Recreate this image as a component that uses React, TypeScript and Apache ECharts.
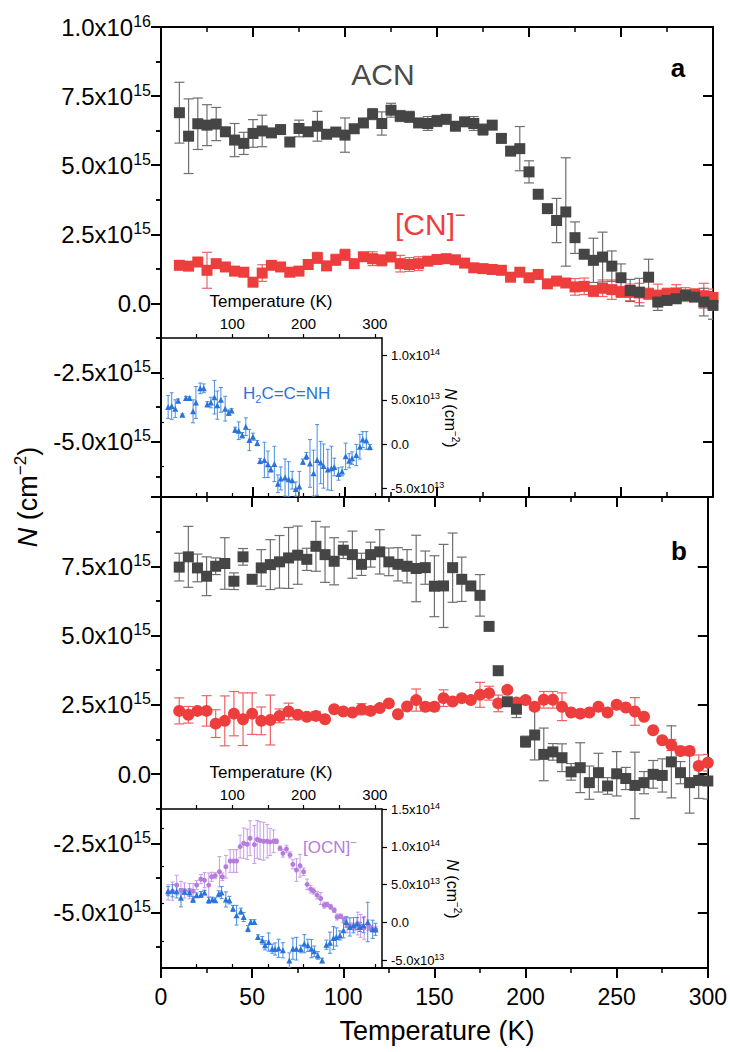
import React, { useEffect, useRef } from 'react';
import * as echarts from 'echarts';

const FONT = 'Arial, "Liberation Sans", Helvetica, sans-serif';

// ---------- main panels (temperature in K, N in units of 1e15 cm^-2) ----------
const T_MAIN = [10, 15, 20, 25, 30, 35, 40, 45, 50, 55, 60, 65, 70, 75, 80, 85, 90, 95, 100, 105, 110, 115, 120, 125, 130, 135, 140, 145, 150, 155, 160, 165, 170, 175, 180, 185, 190, 195, 200, 205, 210, 215, 220, 225, 230, 235, 240, 245, 250, 255, 260, 265, 270, 275, 280, 285, 290, 295, 300];

// panel a: ACN
const ACN_A = [6.9, 6.05, 6.5, 6.45, 6.49, 6.21, 5.91, 5.79, 6.15, 6.24, 6.17, 6.29, 5.84, 6.33, 6.21, 6.41, 6.12, 6.2, 6.09, 6.32, 6.53, 6.85, 6.51, 6.99, 6.78, 6.75, 6.53, 6.51, 6.6, 6.66, 6.41, 6.57, 6.51, 6.29, 6.45, 5.97, 5.51, 5.6, 4.76, 3.95, 3.43, 3.0, 3.31, 2.38, 1.78, 1.56, 1.68, 1.35, 0.93, 0.47, 0.41, 0.95, 0.05, 0.11, 0.17, 0.29, 0.23, 0.05, -0.07];
const ACN_A_ERR = [1.1, 1.35, 0.93, 0.74, 0.6, 0.15, 0.6, 0.4, 0.5, 0.57, 0.15, 0.1, 0.1, 0.3, 0.15, 0.54, 0.1, 0.15, 0.62, 0.15, 0.15, 0.2, 0.42, 0.25, 0.2, 0.2, 0.15, 0.25, 0.2, 0.1, 0.1, 0.15, 0.25, 0.2, 0.1, 0.1, 0.1, 0.8, 0.4, 0.1, 0.1, 0.8, 1.96, 0.57, 0.1, 0.8, 0.9, 0.55, 0.5, 0.4, 0.5, 0.65, 0.3, 0.1, 0.1, 0.1, 0.1, 0.5, 0.5];
// panel a: [CN]-
const CN_A = [1.38, 1.35, 1.5, 1.2, 1.44, 1.32, 1.17, 1.13, 0.77, 1.1, 1.38, 1.32, 1.13, 1.17, 1.41, 1.65, 1.36, 1.58, 1.76, 1.44, 1.69, 1.62, 1.56, 1.68, 1.44, 1.41, 1.44, 1.53, 1.59, 1.62, 1.58, 1.46, 1.29, 1.26, 1.23, 1.2, 0.95, 1.13, 0.93, 1.05, 0.71, 0.81, 0.74, 0.6, 0.62, 0.45, 0.55, 0.5, 0.42, 0.4, 0.38, 0.35, 0.3, 0.35, 0.38, 0.32, 0.33, 0.28, 0.22];
const CN_A_ERR = [0.15, 0.1, 0.15, 0.65, 0.1, 0.1, 0.1, 0.1, 0.1, 0.3, 0.1, 0.1, 0.1, 0.15, 0.15, 0.2, 0.1, 0.2, 0.2, 0.1, 0.1, 0.25, 0.2, 0.1, 0.3, 0.25, 0.25, 0.1, 0.1, 0.1, 0.1, 0.1, 0.1, 0.1, 0.1, 0.1, 0.1, 0.1, 0.1, 0.1, 0.1, 0.15, 0.15, 0.3, 0.3, 0.2, 0.3, 0.35, 0.2, 0.3, 0.35, 0.2, 0.4, 0.2, 0.3, 0.25, 0.2, 0.45, 0.3];

// panel b: ACN
const ACN_B = [7.47, 7.84, 7.44, 7.14, 7.5, 7.6, 6.96, 7.84, 7.03, 7.44, 7.56, 7.66, 7.8, 7.9, 7.75, 8.22, 7.92, 7.68, 8.08, 7.92, 7.57, 7.92, 8.02, 7.66, 7.57, 7.5, 7.42, 7.45, 6.78, 6.79, 7.45, 7.03, 6.79, 6.45, 5.33, 3.73, 2.61, 2.34, 1.17, 1.41, 0.71, 0.8, 0.59, 0.08, 0.23, -0.31, 0.05, -0.43, 0.01, -0.16, -0.41, -0.31, -0.01, -0.05, 0.44, 0.05, -0.31, -0.23, -0.25];
const ACN_B_ERR = [0.5, 1.1, 0.5, 0.7, 0.3, 0.93, 0.3, 0.3, 0, 0.66, 0.9, 0.95, 1.1, 1.05, 0.4, 0.9, 1.0, 0.85, 0.3, 0.85, 0.4, 0.45, 0.8, 0.5, 0.6, 0.6, 1.2, 0.6, 1.1, 1.5, 1.25, 0.8, 0.1, 0.75, 0, 0, 0.1, 0.3, 0.2, 0.9, 0.95, 0.3, 0.5, 0.3, 0.9, 0.6, 0.7, 0.3, 0.8, 0.4, 1.2, 0.4, 0.5, 0.6, 1.3, 0.4, 1.1, 0.65, 0.65];
// panel b: [CN]-
const CN_B = [2.28, 2.14, 2.28, 2.28, 1.82, 1.92, 2.18, 1.98, 2.18, 1.92, 1.95, 2.1, 2.26, 2.14, 2.07, 2.1, 1.98, 2.34, 2.26, 2.22, 2.34, 2.28, 2.38, 2.55, 2.16, 2.44, 2.67, 2.43, 2.43, 2.74, 2.62, 2.74, 2.67, 2.86, 2.92, 2.55, 3.04, 2.58, 2.67, 2.43, 2.68, 2.68, 2.43, 2.22, 2.18, 2.22, 2.43, 2.22, 2.5, 2.4, 2.26, 2.07, 1.58, 1.22, 1.05, 0.83, 0.83, 0.29, 0.41];
const CN_B_ERR = [0.47, 0.3, 0.1, 0.55, 0.5, 0.9, 0.8, 0.95, 0.75, 0.5, 0.9, 0.25, 0.3, 0.1, 0.1, 0.15, 0.1, 0.1, 0.1, 0.1, 0.2, 0.1, 0.1, 0.1, 0.1, 0.1, 0.4, 0.15, 0.15, 0.3, 0.1, 0.1, 0.1, 0.45, 0.25, 0.3, 0.1, 0.15, 0.1, 0.1, 0.3, 0.3, 0.5, 0.1, 0.1, 0.1, 0.1, 0.1, 0.1, 0.1, 0.5, 0.1, 0.1, 0.1, 0.2, 0.15, 0.15, 0.4, 0.3];

// ---------- insets (N in units of 1e13 cm^-2) ----------
const T_KET_A = [10, 15, 20, 24, 30, 35, 40, 45, 49, 55, 60, 65, 70, 75, 79, 84, 90, 95, 99, 104, 109, 114, 119, 124, 129, 135, 139, 145, 150, 154, 159, 164, 168, 174, 179, 184, 189, 194, 199, 204, 209, 214, 219, 224, 228, 234, 239, 243, 249, 254, 259, 264, 268, 274, 279, 283, 288, 293];
const KET_A = [4.2, 4.3, 4.0, 4.9, 3.3, 5.2, 5.2, 3.7, 4.7, 6.3, 6.3, 4.5, 4.7, 5.3, 4.4, 5.0, 4.0, 3.55, 3.8, 1.6, 1.5, 1.0, 1.96, 0.45, 0.83, 0.1, -1.93, -1.8, -2.3, -2.87, -2.26, -4.5, -3.9, -3.8, -4.0, -4.1, -5.1, -4.8, -2.0, -1.36, -2.2, -3.3, -1.8, -2.1, -2.5, -2.9, -2.75, -2.6, -3.4, -3.1, -1.4, -1.9, -1.6, -1.25, -0.3, 0.5, 0.4, -0.35];
const KET_A_ERR = [1.3, 1.5, 1.0, 0.2, 0.1, 0.2, 0.15, 1.3, 1.8, 0.6, 0.5, 0.3, 0.6, 1.9, 1.6, 1.4, 1.4, 0.3, 0.2, 0.3, 1.0, 0.3, 1.0, 1.2, 0.4, 0.3, 0.3, 2.0, 1.5, 0.3, 2.0, 1.0, 1.3, 2.1, 2.0, 1.0, 0.8, 1.7, 0.3, 0.4, 2.7, 2.6, 4.0, 2.4, 2.5, 2.3, 2.5, 1.0, 0.7, 0.5, 1.5, 0.8, 0.7, 1.2, 1.4, 0.9, 1.0, 0.3];

const T_KET_B = [10, 16, 22, 28, 33, 40, 45, 50, 56, 61, 67, 72, 76, 81, 85, 91, 96, 101, 106, 112, 116, 122, 126, 131, 136, 142, 146, 151, 156, 160, 165, 171, 180, 185, 190, 196, 201, 206, 211, 215, 220, 226, 232, 237, 242, 246, 251, 256, 260, 265, 270, 275, 279, 284, 290, 297, 301];
const KET_B = [4.15, 4.2, 4.15, 3.27, 4.06, 3.97, 3.05, 3.62, 3.71, 3.97, 2.96, 3.05, 2.96, 3.8, 3.97, 3.05, 2.96, 1.86, 0.97, 1.5, 0.74, -0.8, 0.08, 0.08, -1.91, -2.35, -3.01, -2.57, -3.45, -3.49, -3.4, -3.66, -5.0, -3.45, -3.45, -3.49, -2.79, -3.0, -3.45, -3.8, -4.34, -5.0, -2.92, -2.66, -2.04, -1.9, -1.7, -1.02, 0.08, -0.58, -0.35, -0.13, -0.58, -0.35, 0.08, -0.89, -0.89];
const KET_B_ERR = [0.6, 0.8, 0.9, 1.2, 0.3, 0.5, 0.4, 0.3, 0.4, 0.3, 0.4, 0.3, 0.3, 0.4, 0.8, 1.0, 0.5, 0.4, 1.3, 0.4, 0.6, 0.4, 0.3, 0.3, 0.3, 0.5, 0.6, 1.2, 0.6, 0.8, 1.2, 1.0, 1.0, 1.4, 1.5, 0.5, 1.2, 0.8, 1.2, 0.7, 0.5, 0.3, 0.6, 1.4, 1.5, 1.2, 0.6, 1.0, 0.7, 1.2, 1.0, 0.8, 0.6, 1.0, 2.6, 1.2, 0.8];

const T_OCN_B = [10, 16, 22, 28, 33, 40, 45, 50, 56, 61, 67, 71, 76, 82, 86, 91, 97, 102, 106, 111, 116, 121, 125, 131, 135, 139, 144, 149, 153, 158, 162, 167, 171, 176, 181, 185, 190, 195, 200, 205, 210, 214, 219, 224, 229, 233, 238, 243, 247, 252, 257, 261, 266, 271, 276, 280, 285, 291, 295, 301];
const OCN_B = [3.98, 4.15, 4.95, 4.24, 4.24, 4.15, 4.15, 4.95, 5.74, 5.6, 4.95, 6.05, 6.19, 6.71, 6.05, 7.37, 8.13, 8.13, 8.13, 10.03, 10.48, 10.34, 11.14, 10.3, 10.97, 10.83, 10.74, 10.74, 10.65, 10.74, 10.74, 9.81, 9.15, 9.72, 8.93, 7.69, 6.94, 7.51, 6.71, 5.04, 4.42, 4.15, 3.62, 3.18, 2.3, 2.38, 2.07, 1.63, 0.74, 0.83, 0.44, -0.35, -0.44, -0.58, -0.13, -0.44, -0.71, -0.35, -0.8, -0.89];
const OCN_B_ERR = [1.0, 1.2, 1.3, 1.2, 1.0, 1.0, 1.0, 0.6, 0.6, 1.0, 1.6, 0.6, 0.4, 2.0, 0.5, 1.5, 1.5, 1.5, 1.5, 1.5, 2.0, 2.0, 2.3, 2.5, 2.5, 2.5, 2.5, 2.2, 1.8, 1.5, 0.3, 0.3, 0.5, 0.5, 0.4, 0.6, 1.5, 1.5, 0.5, 0.7, 0.5, 0.4, 0.5, 0.8, 0.4, 0.3, 0.3, 0.3, 0.4, 0.3, 0.3, 1.0, 0.4, 0.5, 1.5, 1.5, 1.5, 0.7, 0.4, 0.4];

// ---------- ticks ----------
const MAIN_Y_TICKS = [-5, -2.5, 0, 2.5, 5, 7.5, 10];
const MAIN_Y_LABELS_A = [-5, -2.5, 0, 2.5, 5, 7.5, 10];
const MAIN_Y_LABELS_B = [-5, -2.5, 0, 2.5, 5, 7.5];
const MAIN_Y_MINOR = [-6.25, -3.75, -1.25, 1.25, 3.75, 6.25, 8.75];
const INSET_X_TICKS = [50, 100, 150, 200, 250, 300];
const INSET_X_LABELS = [100, 200, 300];
const INSET_A_TICKS = [-5, 0, 5, 10];
const INSET_A_MINOR = [-2.5, 2.5, 7.5];
const INSET_B_TICKS = [-5, 0, 5, 10, 15];
const INSET_B_MINOR = [-2.5, 2.5, 7.5, 12.5];

function sci(v: number, unitExp: number): string {
  if (Math.abs(v) < 1e-9) return '{b|0.0}';
  const real = v * Math.pow(10, unitExp);
  const e = Math.floor(Math.log10(Math.abs(real)) + 1e-9);
  const m = real / Math.pow(10, e);
  return `{b|${m.toFixed(1)}x10}{s|${e}}`;
}

function pts(t: number[], v: number[]) {
  return t.map((x, i) => [x, v[i]]);
}
function errs(t: number[], v: number[], e: number[]) {
  const out: number[][] = [];
  t.forEach((x, i) => {
    if (e[i] > 0) out.push([x, v[i] - e[i], v[i] + e[i]]);
  });
  return out;
}

function errSeries(xi: number, yi: number, data: number[][], color: string, cap: number, lw: number) {
  return {
    type: 'custom',
    xAxisIndex: xi,
    yAxisIndex: yi,
    clip: true,
    z: 2,
    encode: { x: 0, y: [1, 2] },
    data,
    renderItem: (_p: any, api: any) => {
      const x = api.value(0);
      const a = api.coord([x, api.value(1)]);
      const b = api.coord([x, api.value(2)]);
      const st = { stroke: color, lineWidth: lw };
      return {
        type: 'group',
        children: [
          { type: 'line', shape: { x1: a[0], y1: a[1], x2: b[0], y2: b[1] }, style: st },
          { type: 'line', shape: { x1: a[0] - cap, y1: a[1], x2: a[0] + cap, y2: a[1] }, style: st },
          { type: 'line', shape: { x1: b[0] - cap, y1: b[1], x2: b[0] + cap, y2: b[1] }, style: st },
        ],
      };
    },
  };
}

function scatter(xi: number, yi: number, data: number[][], symbol: string, size: number, color: string, z = 3) {
  return {
    type: 'scatter',
    xAxisIndex: xi,
    yAxisIndex: yi,
    data,
    symbol,
    symbolSize: size,
    itemStyle: { color, opacity: 1 },
    z,
  };
}

const MAIN_LINE = { lineStyle: { color: '#000', width: 2 } };
const INSET_LINE = { lineStyle: { color: '#000', width: 1.5 } };

const mainRich = {
  b: { fontSize: 24, fontFamily: FONT, color: '#000', lineHeight: 28 },
  s: { fontSize: 16, fontFamily: FONT, color: '#000', lineHeight: 16, verticalAlign: 'top' },
};
const insetRich = {
  b: { fontSize: 13, fontFamily: FONT, color: '#000', lineHeight: 16 },
  s: { fontSize: 9, fontFamily: FONT, color: '#000', lineHeight: 10, verticalAlign: 'top' },
};

function mainX(gridIndex: number, position: string, labels: boolean, inside: boolean) {
  return {
    type: 'value', gridIndex, position, min: 0, max: 300, interval: 50,
    axisLine: { show: true, onZero: false, ...MAIN_LINE },
    axisTick: { show: true, inside, length: 10, lineStyle: { color: '#000', width: 2 } },
    minorTick: { show: true, splitNumber: 2, length: 5, lineStyle: { color: '#000', width: 1.5 } },
    axisLabel: { show: labels, fontSize: 23, fontFamily: FONT, color: '#000', margin: 17 },
    splitLine: { show: false },
    minorSplitLine: { show: false },
  };
}

function mainY(gridIndex: number, position: string, labels: number[] | null, inside: boolean) {
  return {
    type: 'value', gridIndex, position, min: -7, max: 10,
    axisLine: { show: true, onZero: false, ...MAIN_LINE },
    axisTick: { show: true, inside, length: 10, customValues: MAIN_Y_TICKS, lineStyle: { color: '#000', width: 2 } },
    axisLabel: labels
      ? { show: true, customValues: labels, margin: 10, formatter: (v: number) => sci(v, 15), rich: mainRich }
      : { show: false },
    splitLine: { show: false },
  };
}
function mainYMinor(gridIndex: number, position: string, inside: boolean) {
  return {
    type: 'value', gridIndex, position, min: -7, max: 10,
    axisLine: { show: false },
    axisTick: { show: true, inside, length: 5, customValues: MAIN_Y_MINOR, lineStyle: { color: '#000', width: 1.5 } },
    axisLabel: { show: false },
    splitLine: { show: false },
  };
}

function insetX(gridIndex: number, position: string, labels: boolean, inside: boolean) {
  return {
    type: 'value', gridIndex, position, min: 0, max: 310,
    axisLine: { show: true, onZero: false, ...INSET_LINE },
    axisTick: { show: true, inside, length: 4, customValues: INSET_X_TICKS, lineStyle: { color: '#000', width: 1.2 } },
    axisLabel: labels
      ? { show: true, customValues: INSET_X_LABELS, fontSize: 15, fontFamily: FONT, color: '#000', margin: 7 }
      : { show: false },
    splitLine: { show: false },
  };
}
function insetY(gridIndex: number, max: number, ticks: number[]) {
  return {
    type: 'value', gridIndex, position: 'right', min: -6, max,
    axisLine: { show: true, onZero: false, ...INSET_LINE },
    axisTick: { show: true, inside: false, length: 5, customValues: ticks, lineStyle: { color: '#000', width: 1.2 } },
    axisLabel: { show: true, customValues: ticks, margin: 9, formatter: (v: number) => sci(v, 13), rich: insetRich },
    splitLine: { show: false },
  };
}
function insetYMinor(gridIndex: number, max: number, minors: number[]) {
  return {
    type: 'value', gridIndex, position: 'right', min: -6, max,
    axisLine: { show: false },
    axisTick: { show: true, inside: false, length: 3, customValues: minors, lineStyle: { color: '#000', width: 1.2 } },
    axisLabel: { show: false },
    splitLine: { show: false },
  };
}

function text(x: number, y: number, t: string, style: any, rotation = 0) {
  return {
    type: 'text', x, y, rotation, silent: true, z: 10,
    style: {
      text: t, fill: '#000', fontFamily: FONT,
      align: 'center', verticalAlign: 'middle',
      textAlign: 'center', textVerticalAlign: 'middle',
      ...style,
    },
  };
}

function nTitle(size: number, supSize: number, lh: number) {
  return {
    i: { fontStyle: 'italic', fontSize: size, fontFamily: FONT, fill: '#000', lineHeight: lh },
    n: { fontSize: size, fontFamily: FONT, fill: '#000', lineHeight: lh },
    s: { fontSize: supSize, fontFamily: FONT, fill: '#000', lineHeight: supSize + 1, verticalAlign: 'top' },
  };
}

const BLACK = '#454545';
const BLACK_ERR = '#6f6f6f';
const RED = '#ee3d3d';
const RED_ERR = '#f06262';
const BLUE = '#2a73da';
const BLUE_ERR = '#4a8ee2';
const PURPLE = '#b57cdc';
const PURPLE_ERR = '#c79de6';

export default function App() {
  const ref = useRef<HTMLDivElement>(null);
  useEffect(() => {
    if (!ref.current) return;
    const chart = echarts.init(ref.current, null, { renderer: 'svg' });
    const option: any = {
      animation: false,
      backgroundColor: '#fff',
      grid: [
        { left: 161, top: 27, width: 552, height: 470 },
        { left: 161, top: 497, width: 552, height: 471 },
        { left: 161, top: 338, width: 221, height: 159 },
        { left: 161, top: 809, width: 221, height: 159 },
      ],
      xAxis: [
        mainX(0, 'bottom', false, true),
        mainX(0, 'top', false, true),
        mainX(1, 'bottom', true, false),
        mainX(1, 'top', false, true),
        insetX(2, 'top', true, false),
        insetX(2, 'bottom', false, true),
        insetX(3, 'top', true, false),
        insetX(3, 'bottom', false, true),
      ],
      yAxis: [
        mainY(0, 'left', MAIN_Y_LABELS_A, false),
        mainYMinor(0, 'left', false),
        mainY(0, 'right', null, true),
        mainYMinor(0, 'right', true),
        mainY(1, 'left', MAIN_Y_LABELS_B, false),
        mainYMinor(1, 'left', false),
        mainY(1, 'right', null, true),
        mainYMinor(1, 'right', true),
        insetY(2, 12, INSET_A_TICKS),
        insetYMinor(2, 12, INSET_A_MINOR),
        insetY(3, 15, INSET_B_TICKS),
        insetYMinor(3, 15, INSET_B_MINOR),
      ],
      series: [
        // panel a
        errSeries(0, 0, errs(T_MAIN, CN_A, CN_A_ERR), RED_ERR, 5, 1.2),
        scatter(0, 0, pts(T_MAIN, CN_A), 'rect', 11, RED),
        errSeries(0, 0, errs(T_MAIN, ACN_A, ACN_A_ERR), BLACK_ERR, 5, 1.2),
        scatter(0, 0, pts(T_MAIN, ACN_A), 'rect', 11, BLACK, 4),
        // panel b
        errSeries(2, 4, errs(T_MAIN, CN_B, CN_B_ERR), RED_ERR, 5, 1.2),
        scatter(2, 4, pts(T_MAIN, CN_B), 'circle', 12, RED),
        errSeries(2, 4, errs(T_MAIN, ACN_B, ACN_B_ERR), BLACK_ERR, 5, 1.2),
        scatter(2, 4, pts(T_MAIN, ACN_B), 'rect', 11, BLACK, 4),
        // inset a
        errSeries(4, 8, errs(T_KET_A, KET_A, KET_A_ERR), BLUE_ERR, 2, 1),
        scatter(4, 8, pts(T_KET_A, KET_A), 'triangle', 6, BLUE),
        // inset b
        errSeries(6, 10, errs(T_OCN_B, OCN_B, OCN_B_ERR), PURPLE_ERR, 2, 1),
        scatter(6, 10, pts(T_OCN_B, OCN_B), 'circle', 5, PURPLE),
        errSeries(6, 10, errs(T_KET_B, KET_B, KET_B_ERR), BLUE_ERR, 2, 1),
        scatter(6, 10, pts(T_KET_B, KET_B), 'triangle', 6, BLUE, 4),
      ],
      graphic: [
        text(28, 497, '{i|N}{n| (cm}{s|−2}{n|)}', { rich: nTitle(27, 17, 32) }, Math.PI / 2),
        text(437, 1031, 'Temperature (K)', { fontSize: 27 }),
        text(271, 301, 'Temperature (K)', { fontSize: 17 }),
        text(271, 772, 'Temperature (K)', { fontSize: 17 }),
        text(450, 418, '{i|N}{n| (cm}{s|−2}{n|)}', { rich: nTitle(16, 10, 20) }, -Math.PI / 2),
        text(452, 889, '{i|N}{n| (cm}{s|−2}{n|)}', { rich: nTitle(16, 10, 20) }, -Math.PI / 2),
        text(383, 74, 'ACN', { fontSize: 30, fill: '#4a4a4a' }),
        text(395, 224, '{n|[CN]}{s|−}', {
          align: 'left', textAlign: 'left',
          rich: {
            n: { fontSize: 30, fontFamily: FONT, fill: RED, lineHeight: 36 },
            s: { fontSize: 18, fontFamily: FONT, fill: RED, lineHeight: 18, verticalAlign: 'top' },
          },
        }),
        text(678, 68, 'a', { fontSize: 26, fontWeight: 'bold' }),
        text(679, 551, 'b', { fontSize: 26, fontWeight: 'bold' }),
        text(243, 393, '{n|H}{u|2}{n|C=C=NH}', {
          align: 'left', textAlign: 'left',
          rich: {
            n: { fontSize: 17, fontFamily: FONT, fill: BLUE, lineHeight: 22 },
            u: { fontSize: 11, fontFamily: FONT, fill: BLUE, lineHeight: 12, verticalAlign: 'bottom' },
          },
        }),
        text(303, 847, '{n|[OCN]}{s|−}', {
          align: 'left', textAlign: 'left',
          rich: {
            n: { fontSize: 17, fontFamily: FONT, fill: PURPLE, lineHeight: 22 },
            s: { fontSize: 11, fontFamily: FONT, fill: PURPLE, lineHeight: 12, verticalAlign: 'top' },
          },
        }),
      ],
    };
    chart.setOption(option);
    return () => chart.dispose();
  }, []);
  return (
    <div
      ref={ref}
      style={{ position: 'fixed', left: 0, top: 0, width: 730, height: 1052, background: '#fff' }}
    />
  );
}
